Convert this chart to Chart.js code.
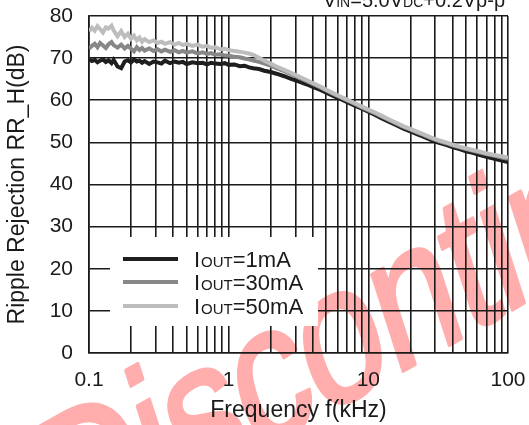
<!DOCTYPE html>
<html>
<head>
<meta charset="utf-8">
<script src="https://cdn.jsdelivr.net/npm/chart.js@4.4.0/dist/chart.umd.min.js"></script>
<style>
html,body{margin:0;padding:0;background:#fff;overflow:hidden}
</style>
</head>
<body>
<canvas id="myChart" width="529" height="425"></canvas>
<script>
// frequency in kHz
var freq=[0.1,0.105,0.11,0.115,0.12,0.126,0.132,0.138,0.145,0.15,0.16,0.17,0.18,0.19,0.2,0.21,0.22,0.23,0.24,0.25,
  0.27,0.29,0.31,0.33,0.35,0.38,0.41,0.44,0.47,0.5,0.55,0.6,0.65,0.7,0.75,0.8,0.87,0.94,1.0,1.1,
  1.2,1.3,1.4,1.5,1.65,1.8,2.0,2.2,2.5,2.8,3.2,3.6,4.0,4.5,5.0,5.6,6.3,7.0,8.0,9.0,
  10,11,12.5,14,16,18,20,22.5,25,28,32,36,40,45,50,56,63,70,80,90,100]
var rr1mA=[69.8,69.3,69.6,69.0,69.4,69.7,69.1,69.5,68.8,69.6,68.0,67.6,69.2,69.5,69.0,69.7,69.2,69.4,68.9,69.3,
  68.6,69.2,69.0,68.7,69.4,68.8,69.2,68.9,69.1,68.6,69.0,68.8,68.9,68.5,68.9,68.7,68.6,68.8,68.4,68.5,
  68.1,68.2,67.8,67.6,67.4,67.0,66.7,66.3,65.7,65.1,64.4,63.8,63.2,62.5,61.8,61.0,60.3,59.6,58.7,58.0,
  57.3,56.6,55.7,54.9,54.0,53.2,52.6,51.9,51.3,50.6,49.9,49.4,48.9,48.4,47.9,47.5,47.0,46.6,46.1,45.7,45.3]
var rr30mA=[72.3,72.9,73.4,72.6,73.6,73.0,72.4,73.3,73.8,73.1,72.5,73.2,72.3,72.9,72.2,71.6,72.6,71.9,72.4,71.8,
  72.3,71.7,72.1,71.6,72.0,71.5,71.9,71.4,71.7,71.3,71.6,71.1,71.4,71.0,71.2,70.8,70.9,70.6,70.6,70.3,
  70.2,69.9,69.7,69.4,69.1,68.7,68.2,67.6,66.9,66.2,65.3,64.6,63.9,63.1,62.3,61.5,60.7,60.0,59.1,58.3,
  57.6,57.0,56.1,55.3,54.4,53.6,53.0,52.3,51.7,51.0,50.3,49.8,49.3,48.8,48.4,48.0,47.6,47.2,46.8,46.4,46.1]
var rr50mA=[76.4,77.2,76.5,77.6,76.9,76.1,77.3,77.0,77.7,76.6,75.2,76.4,75.0,75.8,74.6,75.3,74.2,74.9,73.9,74.5,
  73.8,74.2,73.6,73.9,73.4,73.8,73.2,73.6,73.1,73.4,72.9,73.2,72.7,72.9,72.4,72.6,72.1,72.2,71.9,71.7,
  71.5,71.3,71.1,70.8,70.1,69.4,68.7,68.0,67.2,66.5,65.6,64.8,64.1,63.3,62.5,61.7,60.9,60.2,59.3,58.5,
  57.8,57.2,56.3,55.5,54.6,53.8,53.2,52.5,51.9,51.2,50.5,50.0,49.5,49.0,48.6,48.2,47.8,47.4,47.0,46.7,46.4]
var xTicks=[0.1,0.2,0.3,0.4,0.5,0.6,0.7,0.8,0.9,1,2,3,4,5,6,7,8,9,10,20,30,40,50,60,70,80,90,100]
var xLabels=[0.1,1,10,100]
var legendText=['=1mA','=30mA','=50mA']
var lineColors=['#1e1e1e','#878787','#bdbdbd']

var FONT='"Liberation Sans", Arial, sans-serif'
var gridColor='#1a1a1a'

function pts(vals){
  return freq.map(function(f,i){ return {x:f,y:vals[i]} })
}

function noPad(scale){
  scale.paddingTop=0
  scale.paddingBottom=0
  scale.paddingLeft=0
  scale.paddingRight=0
}

var watermark={
  id:'watermark',
  beforeDraw:function(chart){
    var ctx=chart.ctx
    ctx.save()
    ctx.fillStyle='#fff'
    ctx.fillRect(0,0,chart.width,chart.height)
    ctx.translate(62,562)
    ctx.scale(1,1.32)
    ctx.rotate(-23*Math.PI/180)
    ctx.font='150px '+FONT
    ctx.letterSpacing='-3px'
    ctx.fillStyle='#ffadad'
    ctx.strokeStyle='#ffadad'
    ctx.lineWidth=3
    ctx.lineJoin='round'
    ctx.textBaseline='alphabetic'
    ctx.fillText('Discontinued',0,0)
    ctx.strokeText('Discontinued',0,0)
    ctx.restore()
  }
}

var legendBox={
  id:'legendBox',
  beforeDatasetsDraw:function(chart){
    var ctx=chart.ctx
    ctx.save()
    ctx.fillStyle='#fff'
    ctx.fillRect(110,237,208,89)
    var rows=[259,282,306]
    for(var i=0;i<3;i++){
      ctx.strokeStyle=lineColors[i]
      ctx.lineWidth=4
      ctx.beginPath()
      ctx.moveTo(123,rows[i])
      ctx.lineTo(178,rows[i])
      ctx.stroke()
      ctx.fillStyle='#1a1a1a'
      ctx.textBaseline='alphabetic'
      var x=194, y=rows[i]+8
      ctx.font='22px '+FONT
      ctx.fillText('I',x,y)
      x+=ctx.measureText('I').width+1
      ctx.font='15px '+FONT
      ctx.fillText('OUT',x,y)
      x+=ctx.measureText('OUT').width
      ctx.font='22px '+FONT
      ctx.fillText(legendText[i],x,y)
    }
    ctx.restore()
  },
  afterDraw:function(chart){
    // condition text, mostly cut off at the top edge
    var ctx=chart.ctx
    ctx.save()
    ctx.fillStyle='#1a1a1a'
    ctx.textBaseline='alphabetic'
    var parts=[['V',20],['IN',14],['=5.0V',20],['DC',14],['+0.2Vp-p',20]]
    var w=0
    parts.forEach(function(p){ ctx.font=p[1]+'px '+FONT; w+=ctx.measureText(p[0]).width })
    var x=505-w
    parts.forEach(function(p){
      ctx.font=p[1]+'px '+FONT
      ctx.fillText(p[0],x,7)
      x+=ctx.measureText(p[0]).width
    })
    ctx.restore()
  }
}

var ctx=document.getElementById('myChart')
var myChart=new Chart(ctx,{
  type:'line',
  data:{
    datasets:[
      {label:'IOUT=1mA',data:pts(rr1mA),borderColor:lineColors[0],borderWidth:4,pointRadius:0,tension:0,order:2},
      {label:'IOUT=30mA',data:pts(rr30mA),borderColor:lineColors[1],borderWidth:4,pointRadius:0,tension:0,order:1},
      {label:'IOUT=50mA',data:pts(rr50mA),borderColor:lineColors[2],borderWidth:4,pointRadius:0,tension:0,order:0}
    ]
  },
  options:{
    responsive:false,
    devicePixelRatio:1,
    animation:false,
    layout:{padding:{top:16,right:21,left:0,bottom:0}},
    plugins:{legend:{display:false},tooltip:{enabled:false}},
    scales:{
      x:{
        type:'logarithmic',
        min:0.1,max:100,
        afterBuildTicks:function(scale){
          scale.ticks=xTicks.map(function(v){return {value:v}})
        },
        afterFit:function(scale){ scale.height=72; noPad(scale) },
        ticks:{
          autoSkip:false,maxRotation:0,padding:15,color:'#1a1a1a',
          font:{family:FONT,size:21},
          callback:function(v){ return xLabels.indexOf(v)>=0 ? String(v) : '' }
        },
        grid:{color:gridColor,lineWidth:1.6,drawTicks:false},
        border:{display:true,color:gridColor,width:1.6},
        title:{display:true,text:'Frequency f(kHz)',color:'#1a1a1a',font:{family:FONT,size:23},padding:{top:0,bottom:1}}
      },
      y:{
        min:0,max:80,
        afterFit:function(scale){ scale.width=89; noPad(scale) },
        ticks:{stepSize:10,padding:16,color:'#1a1a1a',font:{family:FONT,size:21}},
        grid:{color:gridColor,lineWidth:1.6,drawTicks:false},
        border:{display:true,color:gridColor,width:1.6},
        title:{display:true,text:'Ripple Rejection RR_H(dB)',color:'#1a1a1a',font:{family:FONT,size:23},padding:{top:4,bottom:0}}
      }
    }
  },
  plugins:[watermark,legendBox]
})
</script>
</body>
</html>
